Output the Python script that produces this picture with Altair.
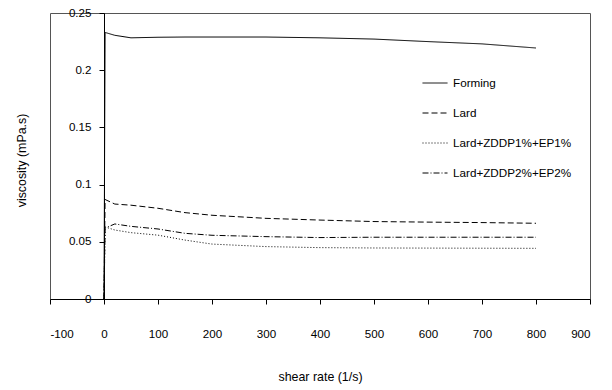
import altair as alt
import pandas as pd

# Shear-rate sweep (1/s) shared by all four lubricants
shear_rate = [0, 2, 20, 50, 100, 150, 200, 300, 400, 500, 600, 700, 800]

forming = [0, 0.233, 0.2305, 0.2283, 0.2288, 0.229, 0.229, 0.229, 0.2283, 0.2272, 0.225, 0.223, 0.2194]
lard = [0, 0.087, 0.083, 0.082, 0.0793, 0.0755, 0.0732, 0.0705, 0.069, 0.0677, 0.0672, 0.0668, 0.0662]
zddp1 = [0, 0.063, 0.0603, 0.058, 0.0558, 0.0515, 0.048, 0.0458, 0.0449, 0.0446, 0.0445, 0.0444, 0.0443]
zddp2 = [0, 0.062, 0.0656, 0.0635, 0.0612, 0.0574, 0.0557, 0.0545, 0.0537, 0.054, 0.054, 0.054, 0.054]

series_names = ["Forming", "Lard", "Lard+ZDDP1%+EP1%", "Lard+ZDDP2%+EP2%"]
series_values = [forming, lard, zddp1, zddp2]
dash_styles = [[1, 0], [6, 3], [1, 2], [6, 2, 1, 2]]

rows = []
for name, vals in zip(series_names, series_values):
    for i, (x, v) in enumerate(zip(shear_rate, vals)):
        rows.append({"shear": x, "viscosity": v, "series": name, "order": i})
df = pd.DataFrame(rows)

FONT = "Liberation Sans"

chart = (
    alt.Chart(df)
    .mark_line(color="black", strokeWidth=1)
    .encode(
        x=alt.X(
            "shear:Q",
            scale=alt.Scale(domain=[-100, 900], nice=False, zero=False),
            axis=alt.Axis(
                title="shear rate (1/s)",
                values=list(range(-100, 901, 100)),
                labelExpr="replace(datum.label, '\u2212', '-')",
                tickSize=5,
                labelPadding=24,
                titlePadding=31,
                grid=False,
            ),
        ),
        y=alt.Y(
            "viscosity:Q",
            scale=alt.Scale(domain=[0, 0.25], nice=False),
            axis=alt.Axis(
                title="viscosity (mPa.s)",
                values=[0, 0.05, 0.1, 0.15, 0.2, 0.25],
                labelExpr="datum.value == 0 ? '0' : format(datum.value, '~g')",
                tickSize=5,
                labelPadding=8,
                offset=-54,
                titleX=-76,
                titleY=147,
                grid=False,
            ),
        ),
        strokeDash=alt.StrokeDash(
            "series:N",
            scale=alt.Scale(domain=series_names, range=dash_styles),
            sort=series_names,
            legend=alt.Legend(
                title=None,
                orient="none",
                legendX=372,
                legendY=57,
                symbolType="stroke",
                symbolSize=625,
                symbolStrokeWidth=1,
                symbolStrokeColor="black",
                rowPadding=10,
                labelFontSize=11.7,
                labelFont=FONT,
                labelColor="black",
                labelOffset=5,
            ),
        ),
        order="order:Q",
    )
    .properties(
        width=540,
        height=286,
        autosize=alt.AutoSizeParams(type="none"),
        padding={"left": 50, "top": 13, "right": 22, "bottom": 91},
    )
    .configure_view(stroke="#555555", strokeWidth=1)
    .configure_axis(
        domainColor="black",
        domainWidth=1,
        tickColor="black",
        labelColor="black",
        titleColor="black",
        labelFont=FONT,
        titleFont=FONT,
        labelFontSize=11.6,
        titleFontSize=12.4,
        titleFontWeight="normal",
    )
)

chart.save("out.html", embed_options={"renderer": "svg", "actions": False})
